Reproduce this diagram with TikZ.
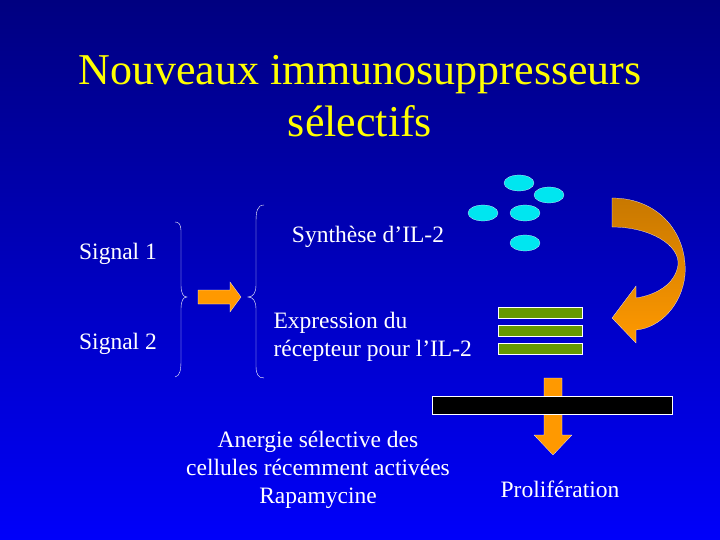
\documentclass[tikz,border=0pt]{standalone}
\usepackage{fontspec}
\setmainfont{Liberation Serif}
\usepackage{tikz}
\usetikzlibrary{positioning,shapes}
\definecolor{slidetop}{RGB}{0,0,128}
\definecolor{slidebot}{RGB}{0,0,250}
\definecolor{titleyellow}{RGB}{255,255,0}
\definecolor{il2cyan}{RGB}{0,230,240}
\definecolor{recgreen}{RGB}{102,153,0}
\definecolor{arrorange}{RGB}{255,153,0}
\definecolor{arrbrown}{RGB}{200,120,0}
\begin{document}
\begin{tikzpicture}[x=1pt,y=-1pt]
\tikzstyle{every node}=[text=white,font=\fontsize{23.5}{28}\selectfont];
\tikzstyle{il2}=[ellipse,fill=il2cyan,draw=white,very thin,minimum width=30pt,minimum height=16pt,inner sep=0pt];
\tikzstyle{recbar}=[fill=recgreen,draw=white,very thin];
\tikzstyle{orangearr}=[fill=arrorange,draw=white,very thin];
\tikzstyle{bracket}=[draw=white,thin];
% background
\shade[top color=slidetop,bottom color=slidebot] (0,0) rectangle (720,540);
\useasboundingbox (0,0) rectangle (720,540);
% title
\node[text=titleyellow,font=\fontsize{44}{52}\selectfont,align=center] (title) at (360,96) {Nouveaux immunosuppresseurs\\sélectifs};
% signals
\node (sig1) at (118,254) {Signal 1};
\node (sig2) at (118,344) {Signal 2};
\draw[bracket] (175,222) .. controls (182,222) and (181,230) .. (181,240) -- (181,285) .. controls (181,293) and (183,297) .. (187,297)
  .. controls (183,297) and (181,301) .. (181,309) -- (181,360) .. controls (181,370) and (180,376) .. (175,377);
\draw[orangearr] (198,290) -- (230,290) -- (230,282) -- (241,297) -- (230,312) -- (230,304) -- (198,304) -- cycle;
\draw[bracket] (264,205) .. controls (257,205) and (256,212) .. (256,222) -- (256,285) .. controls (256,293) and (253,297) .. (248,297)
  .. controls (253,297) and (256,301) .. (256,309) -- (256,366) .. controls (256,374) and (258,378) .. (264,378);
% texts
\node (synth) at (368,237) {Synthèse d’IL-2};
\node[align=left,anchor=west] (expr) at (270,337) {Expression du\\récepteur pour l’IL-2};
\node[align=center] (anergie) at (318,470) {Anergie sélective des\\cellules récemment activées\\Rapamycine};
\node (prolif) at (560,489) {Prolifération};
% IL-2
\node[il2] (c1) at (519,183) {};
\node[il2] (c2) at (549,195) {};
\node[il2] (c3) at (483,213) {};
\node[il2] (c4) at (525,213) {};
\node[il2] (c5) at (525,243) {};
% receptor
\foreach \y in {307,325,343}
  \draw[recbar] (498,\y) rectangle (582,\y+11);
% curved arrow
\shade[top color=arrbrown,bottom color=arrorange,draw=white,very thin]
  (612,198) .. controls (660,198) and (688,235) .. (685,275) .. controls (682,305) and (660,328) .. (636,330)
  -- (636,343) -- (612,318) -- (636,286) -- (636,298)
  .. controls (655,295) and (675,285) .. (678,265) .. controls (680,245) and (650,227) .. (612,227) -- cycle;
% block and down arrow
\draw[orangearr] (544,378) -- (562,378) -- (562,435) -- (572,435) -- (553,455) -- (534,435) -- (544,435) -- cycle;
\draw[fill=black,draw=white,very thin] (432,396) rectangle (672,414);
\end{tikzpicture}
\end{document}
